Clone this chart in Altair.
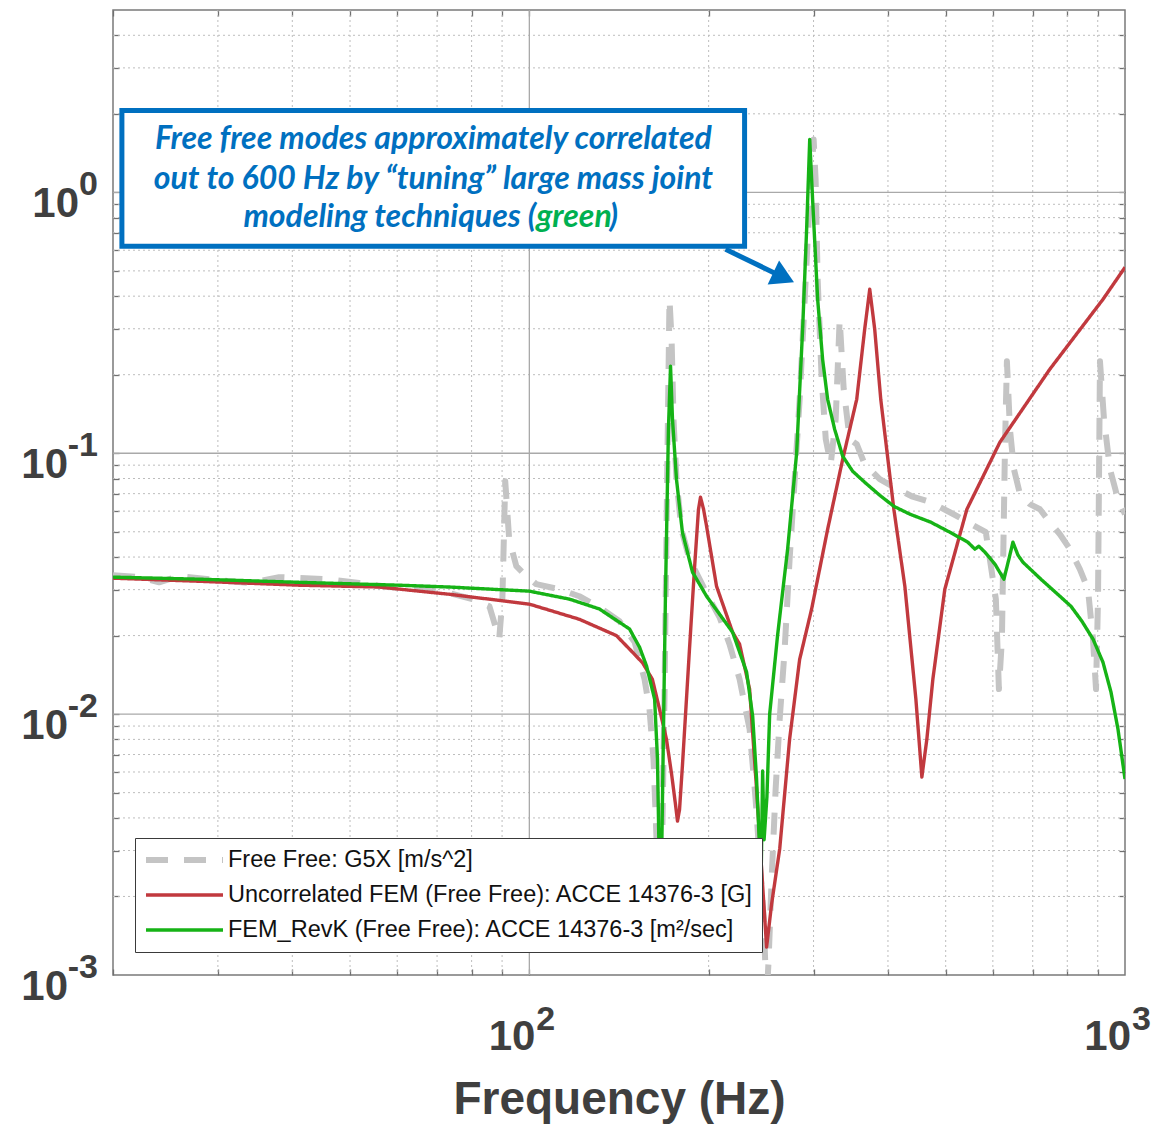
import altair as alt
import pandas as pd

# ---------------------------------------------------------------------------
# Frequency response magnitudes, free-free configuration
# ---------------------------------------------------------------------------
# Test measurement (G5X)
TEST_HZ = [20, 22.1, 23.9, 25.8, 30.1, 33.8, 38.0, 46.1, 51.8, 58.2, 65.3, 73.4,
           80.2, 85.7, 89.0, 90.1, 91.1, 92.5, 95.1, 97.3, 102.7, 112.3, 121.3,
           131.1, 141.7, 150.2, 156.1, 159.1, 161.6, 163.5, 164.8, 166.7, 168.6,
           170.6, 171.9, 173.3, 174.6, 176.6, 180.0, 185.7, 193.1, 200.7, 208.6,
           216.8, 225.4, 234.3, 239.8, 243.6, 247.4, 250.2, 252.2, 255.1, 259.1,
           263.2, 268.3, 273.5, 278.9, 284.3, 289.9, 295.6, 300.1, 302.4, 304.8,
           309.6, 314.5, 320.6, 326.8, 331.9, 337.1, 345.0, 354.5, 365.6, 387.5,
           409.2, 438.5, 472.1, 508.1, 544.8, 583.9, 607.0, 614.2, 621.4, 628.7,
           633.5, 641.0, 651.0, 666.3, 692.3, 719.7, 747.9, 777.5, 808.2, 840.1,
           866.6, 883.6, 894.0, 900.9, 907.8, 922.0, 943.7, 973.2, 1000]
TEST_MAG = [0.0341, 0.0335, 0.0320, 0.0338, 0.0326, 0.0318, 0.0335, 0.0329, 0.0318,
            0.0307, 0.0301, 0.0291, 0.0276, 0.0259, 0.0194, 0.0276, 0.0781, 0.0468,
            0.0369, 0.0350, 0.0315, 0.0301, 0.0283, 0.0257, 0.0227, 0.0189, 0.0136,
            0.01045, 0.00672, 0.00332, 0.00164, 0.00233, 0.01141, 0.1036, 0.389,
            0.2734, 0.135, 0.0795, 0.0511, 0.0393, 0.0329, 0.0276, 0.0235, 0.01854,
            0.0136, 0.00876, 0.00472, 0.00278, 0.00164, 0.0008, 0.00115, 0.00233,
            0.00516, 0.00957, 0.0177, 0.0393, 0.0795, 0.161, 0.389, 0.940, 1.596,
            1.121, 0.464, 0.192, 0.1132, 0.0908, 0.135, 0.326, 0.176, 0.1132, 0.1083,
            0.0908, 0.0795, 0.0741, 0.0684, 0.0649, 0.0594, 0.0544, 0.0498, 0.0276,
            0.01247, 0.0194, 0.1036, 0.225, 0.1236, 0.0868, 0.0697, 0.0638, 0.0610,
            0.0544, 0.0489, 0.0429, 0.0359, 0.0301, 0.0194, 0.01247, 0.0276, 0.225,
            0.135, 0.0868, 0.0666, 0.0584]

# Uncorrelated finite element model
UNCORR_HZ = [20, 27.9, 41.1, 55.9, 73.4, 100, 121.3, 140.0, 148.9, 155.0, 160.9, 165.4,
             169.9, 173.3, 175.9, 177.3, 178.7, 180.7, 185.7, 189.3, 192.3, 193.8,
             196.1, 198.4, 206.2, 219.4, 225.4, 234.3, 240.7, 245.4, 250.2, 255.1,
             263.2, 273.5, 284.3, 297.8, 316.8, 335.8, 354.5, 365.6, 372.8, 380.0,
             389.0, 409.2, 427.0, 445.6, 456.0, 464.9, 475.8, 498.3, 542.7, 616.6,
             747.9, 918.4, 1000]
UNCORR_MAG = [0.0332, 0.0323, 0.0312, 0.0307, 0.0288, 0.0264, 0.0231, 0.0200, 0.0173,
              0.0157, 0.0136, 0.01045, 0.00802, 0.00589, 0.00452, 0.00389, 0.0043,
              0.00632, 0.0177, 0.0359, 0.0610, 0.0678, 0.0610, 0.0525, 0.0309, 0.0206,
              0.01854, 0.01247, 0.00516, 0.00255, 0.00128, 0.00187, 0.00304, 0.00802,
              0.0162, 0.0253, 0.0511, 0.0948, 0.161, 0.299, 0.425, 0.299, 0.161, 0.0610,
              0.0309, 0.01141, 0.00574, 0.00802, 0.0136, 0.0301, 0.0610, 0.1102,
              0.210, 0.389, 0.516]

# Revision K model with tuned large-mass joints
REVK_HZ = [20, 27.9, 41.1, 60.4, 73.4, 100, 116.7, 131.1, 147.3, 153.1, 157.3, 162.3,
           164.1, 165.4, 165.9, 166.3, 167.3, 169.2, 171.2, 172.6, 173.9, 176.6,
           180.7, 187.9, 198.4, 219.4, 231.6, 237.1, 240.7, 243.6, 245.0, 246.4,
           247.8, 250.5, 253.2, 261.1, 271.4, 281.0, 287.6, 292.1, 295.6, 298.9,
           304.8, 310.7, 316.8, 325.5, 335.8, 349.0, 365.6, 387.5, 409.2, 435.4,
           472.1, 508.1, 544.8, 559.7, 568.4, 581.7, 604.7, 626.2, 638.4, 648.4,
           661.1, 674.1, 722.5, 777.5, 811.5, 846.6, 883.6, 918.4, 947.3, 973.2, 1000]
REVK_MAG = [0.0335, 0.0329, 0.0320, 0.0312, 0.0307, 0.0296, 0.0276, 0.0253, 0.0212,
            0.01806, 0.0153, 0.01141, 0.00672, 0.0023, 0.0014, 0.0018, 0.00472, 0.0276,
            0.1236, 0.2154, 0.135, 0.0795, 0.0498, 0.0350, 0.0283, 0.0206, 0.01449,
            0.00982, 0.00564, 0.0030, 0.0024, 0.00605, 0.0033, 0.0048, 0.0100, 0.0201,
            0.0429, 0.1, 0.299, 0.722, 1.596, 0.940, 0.389, 0.229, 0.161, 0.1236,
            0.0974, 0.0853, 0.0774, 0.0690, 0.0626, 0.0584, 0.0544, 0.0498, 0.0456,
            0.0429, 0.0440, 0.0418, 0.0376, 0.0329, 0.0393, 0.0456, 0.0407, 0.0382,
            0.0329, 0.0283, 0.0259, 0.0227, 0.0194, 0.0158, 0.01214, 0.00876, 0.00564]

SERIES = [
    "Free Free: G5X [m/s^2]",
    "Uncorrelated FEM (Free Free): ACCE 14376-3 [G]",
    "FEM_RevK (Free Free): ACCE 14376-3 [m²/sec]",
]
COLORS = ["#c4c4c4", "#c1393e", "#16b316"]
DASHES = [[22, 16], [1, 0], [1, 0]]
WIDTHS = [6, 3.4, 3.4]

# log-decade grid and ticks
X_MINOR = [30, 40, 50, 60, 70, 80, 90, 200, 300, 400, 500, 600, 700, 800, 900]
X_MAJOR = [100]
X_TICKS = [20, 30, 40, 50, 60, 70, 80, 90, 100, 200, 300, 400, 500, 600, 700, 800, 900]
Y_MINOR = [0.002, 0.003, 0.004, 0.005, 0.006, 0.007, 0.008, 0.009,
           0.02, 0.03, 0.04, 0.05, 0.06, 0.07, 0.08, 0.09,
           0.2, 0.3, 0.4, 0.5, 0.6, 0.7, 0.8, 0.9, 2, 3, 4]
Y_MAJOR = [0.01, 0.1, 1]
Y_TICKS = Y_MINOR + Y_MAJOR

# decade labels (mantissa 10, exponent as superscript)
X_LABEL_HZ = [100, 1000]
X_LABEL_EXP = ["2", "3"]
Y_LABEL_MAG = [1, 0.1, 0.01, 0.001]
Y_LABEL_EXP = ["0", "-1", "-2", "-3"]

# call-out
NOTE_LINES = ["Free free modes approximately correlated",
              "out to 600 Hz by \u201ctuning\u201d large mass joint"]
NOTE_LAST = "modeling techniques ("
NOTE_HIGHLIGHT = "green"
NOTE_CLOSE = ")"
NOTE_CENTER_HZ = 69.0
NOTE_BASE_MAG = [1.462, 1.027, 0.734]
NOTE_SPLIT_HZ = 102.7
NOTE_CLOSE_HZ = 136.3
NOTE_BOX = {"hz0": 20.7, "hz1": 229.8, "top": 2.06, "bottom": 0.621}
ARROW = {"hz0": 213.5, "mag0": 0.605, "hz1": 267.3, "mag1": 0.472}

BLUE = "#0070c0"
GREEN_TXT = "#00b050"
LABEL_FONT = dict(font="Liberation Sans", fontWeight="bold", color="#3f3f3f")

# ---------------------------------------------------------------------------
frames = []
for name, hz, mag in zip(SERIES, [TEST_HZ, UNCORR_HZ, REVK_HZ],
                         [TEST_MAG, UNCORR_MAG, REVK_MAG]):
    part = pd.DataFrame({"hz": hz, "mag": mag})
    part["series"] = name
    part["idx"] = range(len(part))
    frames.append(part)
curves = pd.concat(frames, ignore_index=True)

XS = alt.Scale(type="log", domain=[20, 1000], nice=False)
YS = alt.Scale(type="log", domain=[0.001, 5], nice=False)

TICK_AXIS = dict(labels=False, domain=False, grid=False, ticks=True, tickSize=6,
                 tickColor="#707070", tickWidth=1.3, offset=-6)

# vertical grid
v_minor = alt.Chart(pd.DataFrame({"hz": X_MINOR})).mark_rule(
    color="#bdbdbd", strokeWidth=1, strokeDash=[2, 3]
).encode(
    x=alt.X("hz:Q", scale=XS, axis=alt.Axis(
        orient="bottom", values=X_TICKS, title="Frequency (Hz)",
        titleFont="Liberation Sans", titleFontSize=46, titleFontWeight="bold",
        titleColor="#3f3f3f", titleX=506, titleY=144, titleAlign="center",
        titleBaseline="alphabetic", titleAngle=0, **TICK_AXIS))
)
v_major = alt.Chart(pd.DataFrame({"hz": X_MAJOR})).mark_rule(
    color="#a9a9a9", strokeWidth=1.3
).encode(
    x=alt.X("hz:Q", scale=XS, axis=alt.Axis(orient="top", values=X_TICKS,
                                            title=None, **TICK_AXIS))
)

# horizontal grid
h_minor = alt.Chart(pd.DataFrame({"mag": Y_MINOR})).mark_rule(
    color="#bdbdbd", strokeWidth=1, strokeDash=[2, 3]
).encode(
    y=alt.Y("mag:Q", scale=YS, axis=alt.Axis(orient="left", values=Y_TICKS,
                                             title=None, **TICK_AXIS))
)
h_major = alt.Chart(pd.DataFrame({"mag": Y_MAJOR})).mark_rule(
    color="#a9a9a9", strokeWidth=1.3
).encode(
    y=alt.Y("mag:Q", scale=YS, axis=alt.Axis(orient="right", values=Y_TICKS,
                                             title=None, **TICK_AXIS))
)

legend = alt.Legend(
    title=None, orient="none", legendX=22, legendY=828,
    symbolType="stroke", symbolSize=5929, clipHeight=28, rowPadding=7,
    padding=8, labelOffset=2, labelLimit=800,
    labelFont="Liberation Sans", labelFontSize=23.5, labelColor="#111111",
    fillColor="white", strokeColor="#3a3a3a",
)

lines = alt.Chart(curves).mark_line(clip=True, strokeJoin="round").encode(
    x=alt.X("hz:Q", scale=XS, axis=None),
    y=alt.Y("mag:Q", scale=YS, axis=None),
    color=alt.Color("series:N", scale=alt.Scale(domain=SERIES, range=COLORS), legend=legend),
    strokeDash=alt.StrokeDash("series:N", scale=alt.Scale(domain=SERIES, range=DASHES), legend=legend),
    strokeWidth=alt.StrokeWidth("series:N", scale=alt.Scale(type="ordinal", domain=SERIES, range=WIDTHS),
                                legend=legend),
    order="idx:Q",
)

# decade labels
ylab = pd.DataFrame({"mag": Y_LABEL_MAG, "exp": Y_LABEL_EXP, "hz": [20] * len(Y_LABEL_MAG)})
ybase = alt.Chart(ylab).encode(x=alt.X("hz:Q", scale=XS, axis=None),
                               y=alt.Y("mag:Q", scale=YS, axis=None))
y_ten_pos = ybase.transform_filter("datum.exp == '0'").mark_text(
    text="10", align="right", baseline="alphabetic", dx=-34, dy=25, fontSize=42, **LABEL_FONT)
y_ten_neg = ybase.transform_filter("datum.exp != '0'").mark_text(
    text="10", align="right", baseline="alphabetic", dx=-45, dy=25, fontSize=42, **LABEL_FONT)
y_exp = ybase.mark_text(align="right", baseline="alphabetic", dx=-15, dy=3,
                        fontSize=34, **LABEL_FONT).encode(text="exp:N")

xlab = pd.DataFrame({"hz": X_LABEL_HZ, "exp": X_LABEL_EXP, "mag": [0.001] * len(X_LABEL_HZ)})
xbase = alt.Chart(xlab).encode(x=alt.X("hz:Q", scale=XS, axis=None),
                               y=alt.Y("mag:Q", scale=YS, axis=None))
x_ten = xbase.mark_text(text="10", align="right", baseline="alphabetic", dx=6, dy=75,
                        fontSize=42, **LABEL_FONT)
x_exp = xbase.mark_text(align="left", baseline="alphabetic", dx=7, dy=55,
                        fontSize=34, **LABEL_FONT).encode(text="exp:N")

# call-out box, text and arrow
box = alt.Chart(pd.DataFrame([NOTE_BOX])).mark_rect(
    fill="white", stroke=BLUE, strokeWidth=5
).encode(x=alt.X("hz0:Q", scale=XS, axis=None), x2="hz1:Q",
         y=alt.Y("top:Q", scale=YS, axis=None), y2="bottom:Q")

NOTE_FONT = dict(font="Lato", fontSize=32, fontWeight="bold", fontStyle="italic",
                 baseline="alphabetic")
note_df = pd.DataFrame({"hz": [NOTE_CENTER_HZ] * 2, "mag": NOTE_BASE_MAG[:2], "txt": NOTE_LINES})
note_text = alt.Chart(note_df).mark_text(align="center", color=BLUE, **NOTE_FONT).encode(
    x=alt.X("hz:Q", scale=XS, axis=None), y=alt.Y("mag:Q", scale=YS, axis=None), text="txt:N")

last_df = pd.DataFrame({"hz": [NOTE_SPLIT_HZ, NOTE_SPLIT_HZ, NOTE_CLOSE_HZ],
                        "mag": [NOTE_BASE_MAG[2]] * 3,
                        "txt": [NOTE_LAST, NOTE_HIGHLIGHT, NOTE_CLOSE],
                        "part": ["lead", "hl", "close"]})
last_base = alt.Chart(last_df).encode(x=alt.X("hz:Q", scale=XS, axis=None),
                                      y=alt.Y("mag:Q", scale=YS, axis=None),
                                      text="txt:N")
note_left = last_base.transform_filter("datum.part == 'lead'").mark_text(
    align="right", color=BLUE, **NOTE_FONT)
note_green = last_base.transform_filter("datum.part == 'hl'").mark_text(
    align="left", color=GREEN_TXT, **NOTE_FONT)
note_close = last_base.transform_filter("datum.part == 'close'").mark_text(
    align="left", color=BLUE, **NOTE_FONT)

arrow_df = pd.DataFrame([ARROW])
shaft = alt.Chart(arrow_df).mark_rule(color=BLUE, strokeWidth=5).encode(
    x=alt.X("hz0:Q", scale=XS, axis=None), x2="hz1:Q",
    y=alt.Y("mag0:Q", scale=YS, axis=None), y2="mag1:Q")
head = alt.Chart(arrow_df).mark_point(
    shape="triangle-right", filled=True, size=700, angle=25.6, color=BLUE, opacity=1
).encode(x=alt.X("hz1:Q", scale=XS, axis=None), y=alt.Y("mag1:Q", scale=YS, axis=None))

chart = alt.layer(
    v_minor, h_minor, v_major, h_major, lines,
    box, note_text, note_left, note_green, note_close, shaft, head,
    y_ten_pos, y_ten_neg, y_exp, x_ten, x_exp,
).resolve_axis(
    x="independent", y="independent"
).properties(
    width=1012, height=965,
    autosize=alt.AutoSizeParams(type="none"),
    padding={"left": 113, "top": 10, "right": 51, "bottom": 150},
    background="white",
).configure_view(stroke="#7a7a7a", strokeWidth=1.5)

chart.save("out.html", embed_options={"renderer": "svg", "actions": False})
